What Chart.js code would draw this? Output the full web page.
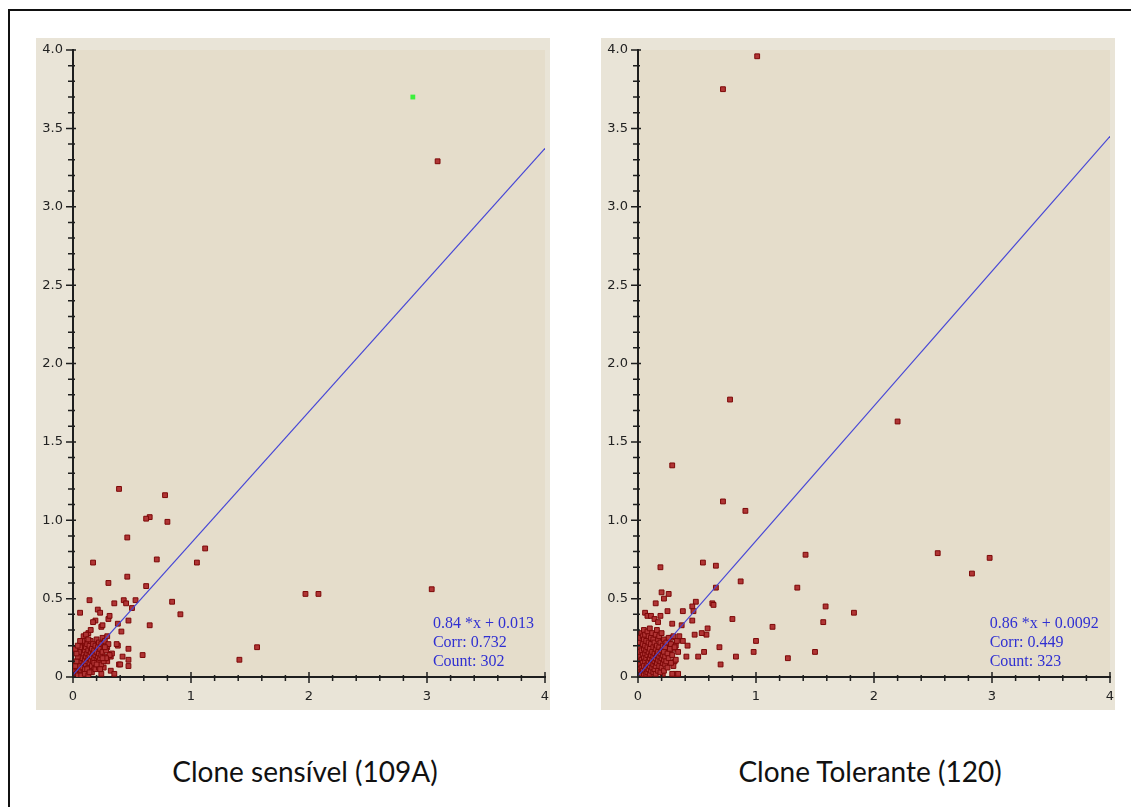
<!DOCTYPE html>
<html>
<head>
<meta charset="utf-8">
<script src="https://cdn.jsdelivr.net/npm/chart.js@4.4.0/dist/chart.umd.min.js"></script>
<style>
    body { margin: 0; background: #fff; width: 1131px; height: 807px; overflow: hidden; position: relative; }
    #frame { position: absolute; left: 8px; top: 9px; width: 1200px; height: 900px; border: 2px solid #111; }
    .panel { position: absolute; top: 38px; width: 514px; height: 672px; background: #e9e4d7; }
    #panel-sens { left: 36px; }
    #panel-tol { left: 601px; }
    .title { position: absolute; top: 756px; width: 400px; text-align: center; font-family: Lato, "Open Sans", sans-serif; font-size: 28px; line-height: 30px; color: #111; }
</style>
</head>
<body>
<div id="frame"></div>
<div class="panel" id="panel-sens"><canvas id="chart-sens"></canvas></div>
<div class="panel" id="panel-tol"><canvas id="chart-tol"></canvas></div>
<div class="title" style="left:105px">Clone sensível (109A)</div>
<div class="title" style="left:670px">Clone Tolerante (120)</div>

<script>
// tick labels
const xTickLabels = ['0', '1', '2', '3', '4'];
const yTickLabels = ['0', '0.5', '1.0', '1.5', '2.0', '2.5', '3.0', '3.5', '4.0'];

// regression / stats shown in the corner of each plot
const fitSlopes = [0.84, 0.86];
const fitIntercepts = [0.013, 0.0092];
const fitLabels = ['0.84 *x + 0.013', '0.86 *x + 0.0092'];
const corrValues = [0.732, 0.449];
const countValues = [302, 323];

// Clone sensivel (109A): [x, y]
const sensHighlight = [[2.88, 3.70]];
const sensPoints = [
    [3.09, 3.29], [3.04, 0.56], [1.97, 0.53], [2.08, 0.53], [1.56, 0.19], [1.41, 0.11],
    [1.12, 0.82], [1.05, 0.73], [0.91, 0.40], [0.84, 0.48], [0.80, 0.99], [0.78, 1.16],
    [0.65, 1.02], [0.62, 1.01], [0.71, 0.75], [0.62, 0.58], [0.65, 0.33], [0.59, 0.14],
    [0.39, 1.20], [0.46, 0.89], [0.46, 0.64], [0.30, 0.60], [0.17, 0.73], [0.14, 0.49],
    [0.06, 0.41], [0.53, 0.49], [0.50, 0.44], [0.43, 0.49], [0.45, 0.47], [0.35, 0.47],
    [0.47, 0.36], [0.38, 0.34], [0.41, 0.29], [0.30, 0.37], [0.21, 0.43], [0.23, 0.41],
    [0.19, 0.36], [0.17, 0.35], [0.24, 0.32], [0.47, 0.18], [0.47, 0.11], [0.47, 0.07],
    [0.42, 0.13], [0.38, 0.20], [0.37, 0.21], [0.32, 0.13], [0.39, 0.08], [0.32, 0.04],
    [0.35, 0.02], [0.24, 0.02], [0.26, 0.06], [0.31, 0.39], [0.13, 0.28], [0.15, 0.30],
    [0.29, 0.10], [0.40, 0.08], [0.29, 0.19], [0.33, 0.15], [0.25, 0.33],
    [0.01, 0.02], [0.02, 0.01], [0.02, 0.04], [0.03, 0.02], [0.03, 0.06], [0.04, 0.03],
    [0.04, 0.08], [0.05, 0.05], [0.05, 0.11], [0.06, 0.02], [0.06, 0.07], [0.06, 0.14],
    [0.07, 0.04], [0.07, 0.10], [0.07, 0.18], [0.08, 0.06], [0.08, 0.12], [0.08, 0.20],
    [0.09, 0.03], [0.09, 0.09], [0.09, 0.15], [0.10, 0.05], [0.10, 0.11], [0.10, 0.17],
    [0.10, 0.22], [0.11, 0.08], [0.11, 0.13], [0.11, 0.19], [0.12, 0.02], [0.12, 0.10],
    [0.12, 0.15], [0.12, 0.21], [0.13, 0.06], [0.13, 0.12], [0.13, 0.17], [0.14, 0.09],
    [0.14, 0.14], [0.14, 0.20], [0.15, 0.04], [0.15, 0.11], [0.15, 0.16], [0.15, 0.23],
    [0.16, 0.07], [0.16, 0.13], [0.16, 0.18], [0.17, 0.10], [0.17, 0.15], [0.17, 0.21],
    [0.18, 0.05], [0.18, 0.12], [0.18, 0.17], [0.19, 0.09], [0.19, 0.14], [0.19, 0.20],
    [0.20, 0.11], [0.20, 0.16], [0.20, 0.24], [0.21, 0.07], [0.21, 0.13], [0.21, 0.19],
    [0.22, 0.10], [0.22, 0.15], [0.22, 0.22], [0.23, 0.12], [0.23, 0.18], [0.24, 0.14],
    [0.24, 0.21], [0.25, 0.16], [0.25, 0.25], [0.26, 0.19], [0.27, 0.13], [0.27, 0.23],
    [0.28, 0.17], [0.29, 0.26], [0.30, 0.21], [0.31, 0.14],
    [0.02, 0.07], [0.03, 0.10], [0.04, 0.13], [0.05, 0.16], [0.06, 0.19], [0.08, 0.23],
    [0.09, 0.26], [0.11, 0.27], [0.13, 0.24], [0.04, 0.01], [0.07, 0.01], [0.10, 0.02],
    [0.13, 0.01], [0.16, 0.03], [0.19, 0.05], [0.22, 0.06], [0.24, 0.08], [0.26, 0.10],
    [0.28, 0.12], [0.03, 0.15], [0.02, 0.18], [0.04, 0.20], [0.06, 0.23], [0.12, 0.05],
    [0.14, 0.03], [0.18, 0.09], [0.20, 0.08], [0.25, 0.12], [0.27, 0.19], [0.23, 0.05]
];

// Clone Tolerante (120): [x, y]
const tolPoints = [
    [1.01, 3.96], [0.72, 3.75], [0.78, 1.77], [2.20, 1.63], [0.29, 1.35], [0.72, 1.12],
    [0.91, 1.06], [2.54, 0.79], [2.98, 0.76], [2.83, 0.66], [1.42, 0.78], [1.35, 0.57],
    [1.59, 0.45], [1.83, 0.41], [1.57, 0.35], [1.50, 0.16], [1.27, 0.12], [1.14, 0.32],
    [1.00, 0.23], [0.98, 0.16], [0.83, 0.13], [0.80, 0.37], [0.87, 0.61], [0.66, 0.71],
    [0.55, 0.73], [0.66, 0.57], [0.63, 0.47], [0.64, 0.46], [0.69, 0.19], [0.70, 0.08],
    [0.59, 0.31], [0.58, 0.27], [0.54, 0.28], [0.56, 0.16], [0.51, 0.13], [0.48, 0.27],
    [0.49, 0.48], [0.46, 0.45], [0.47, 0.42], [0.46, 0.36], [0.42, 0.20], [0.41, 0.13],
    [0.38, 0.42], [0.38, 0.23], [0.37, 0.33], [0.31, 0.18], [0.32, 0.20], [0.31, 0.10],
    [0.32, 0.02], [0.29, 0.02], [0.34, 0.02], [0.26, 0.53], [0.22, 0.50], [0.20, 0.54],
    [0.19, 0.70], [0.15, 0.47], [0.06, 0.41], [0.08, 0.39], [0.11, 0.39], [0.14, 0.37],
    [0.17, 0.35], [0.19, 0.39], [0.25, 0.42], [0.29, 0.34], [0.28, 0.25], [0.27, 0.21],
    [0.30, 0.07], [0.21, 0.02], [0.27, 0.15], [0.25, 0.17], [0.23, 0.12],
    [0.01, 0.01], [0.01, 0.05], [0.01, 0.10], [0.01, 0.16], [0.01, 0.22], [0.02, 0.03],
    [0.02, 0.08], [0.02, 0.13], [0.02, 0.19], [0.02, 0.25], [0.03, 0.02], [0.03, 0.06],
    [0.03, 0.11], [0.03, 0.17], [0.03, 0.28], [0.04, 0.04], [0.04, 0.09], [0.04, 0.14],
    [0.04, 0.21], [0.04, 0.26], [0.05, 0.02], [0.05, 0.07], [0.05, 0.12], [0.05, 0.18],
    [0.05, 0.24], [0.05, 0.30], [0.06, 0.04], [0.06, 0.10], [0.06, 0.15], [0.06, 0.20],
    [0.06, 0.27], [0.07, 0.02], [0.07, 0.06], [0.07, 0.12], [0.07, 0.17], [0.07, 0.23],
    [0.08, 0.03], [0.08, 0.08], [0.08, 0.14], [0.08, 0.19], [0.08, 0.29], [0.09, 0.05],
    [0.09, 0.10], [0.09, 0.16], [0.09, 0.22], [0.09, 0.26], [0.10, 0.02], [0.10, 0.07],
    [0.10, 0.12], [0.10, 0.18], [0.10, 0.31], [0.11, 0.04], [0.11, 0.09], [0.11, 0.14],
    [0.11, 0.21], [0.11, 0.25], [0.12, 0.06], [0.12, 0.11], [0.12, 0.16], [0.12, 0.28],
    [0.13, 0.03], [0.13, 0.08], [0.13, 0.13], [0.13, 0.19], [0.13, 0.24], [0.14, 0.05],
    [0.14, 0.10], [0.14, 0.15], [0.14, 0.22], [0.15, 0.02], [0.15, 0.07], [0.15, 0.12],
    [0.15, 0.18], [0.15, 0.27], [0.16, 0.09], [0.16, 0.14], [0.16, 0.20], [0.16, 0.30],
    [0.17, 0.04], [0.17, 0.11], [0.17, 0.16], [0.17, 0.24], [0.18, 0.07], [0.18, 0.13],
    [0.18, 0.19], [0.18, 0.26], [0.19, 0.03], [0.19, 0.10], [0.19, 0.15], [0.19, 0.22],
    [0.20, 0.06], [0.20, 0.12], [0.20, 0.17], [0.20, 0.28], [0.21, 0.09], [0.21, 0.14],
    [0.21, 0.20], [0.22, 0.04], [0.22, 0.11], [0.22, 0.16], [0.22, 0.24], [0.23, 0.08],
    [0.23, 0.13], [0.23, 0.19], [0.24, 0.10], [0.24, 0.22], [0.25, 0.06], [0.25, 0.15],
    [0.26, 0.12], [0.26, 0.25], [0.27, 0.18], [0.28, 0.09], [0.28, 0.21], [0.29, 0.14],
    [0.30, 0.26], [0.31, 0.19], [0.32, 0.11], [0.33, 0.23], [0.34, 0.16], [0.35, 0.26]
];

const toXY = pts => pts.map(p => ({ x: p[0], y: p[1] }));

// axis ticks crossing the axis line + stats text
const panelDecor = {
    id: 'panelDecor',
    beforeDraw(chart) {
        const a = chart.chartArea;
        const ctx = chart.ctx;
        ctx.save();
        ctx.fillStyle = '#e5ddcb';
        ctx.fillRect(a.left, a.top, a.right - a.left, a.bottom - a.top);
        ctx.restore();
    },
    afterDraw(chart, args, opts) {
        const ctx = chart.ctx;
        const xs = chart.scales.x;
        const ys = chart.scales.y;
        const x0 = xs.getPixelForValue(0);
        const y0 = ys.getPixelForValue(0);
        ctx.save();
        ctx.strokeStyle = '#1e1e1e';
        ctx.lineWidth = 1.5;
        ctx.beginPath();
        for (let i = 0; i <= 40; i++) {
            const py = ys.getPixelForValue(i / 10);
            const major = i % 5 === 0;
            ctx.moveTo(x0 - (major ? 7 : 5), py);
            ctx.lineTo(x0 + (major ? 3 : 2), py);
        }
        for (let i = 0; i <= 20; i++) {
            const px = xs.getPixelForValue(i / 5);
            const major = i % 5 === 0;
            ctx.moveTo(px, y0 - (major ? 5 : 2));
            ctx.lineTo(px, y0 + (major ? 6 : 4));
        }
        ctx.stroke();

        ctx.fillStyle = '#3030d2';
        ctx.font = '16px "Liberation Serif", serif';
        ctx.textBaseline = 'middle';
        ctx.textAlign = 'left';
        const tx = xs.getPixelForValue(opts.textX);
        opts.lines.forEach((t, i) => {
            ctx.fillText(t, tx, ys.getPixelForValue(0.34 - i * 0.12));
        });
        ctx.restore();
    }
};

const makeChart = function (canvasId, idx, points, highlight, textX) {
    const fitLine = [
        { x: 0, y: fitIntercepts[idx] },
        { x: 4, y: fitSlopes[idx] * 4 + fitIntercepts[idx] }
    ];
    const datasets = [
        {
            type: 'line',
            data: fitLine,
            borderColor: '#4646d6',
            borderWidth: 1.2,
            pointRadius: 0,
            fill: false,
            order: 0
        },
        {
            type: 'scatter',
            data: toXY(points),
            pointStyle: 'rect',
            pointRadius: 3.4,
            backgroundColor: '#b03535',
            borderColor: '#7c0808',
            borderWidth: 1,
            order: 2
        }
    ];
    if (highlight.length) {
        datasets.push({
            type: 'scatter',
            data: toXY(highlight),
            pointStyle: 'rect',
            pointRadius: 3.4,
            backgroundColor: '#3cf03c',
            borderColor: '#3cf03c',
            borderWidth: 0,
            order: 1
        });
    }

    return new Chart(document.getElementById(canvasId), {
        type: 'scatter',
        data: { datasets: datasets },
        plugins: [panelDecor],
        options: {
            responsive: true,
            maintainAspectRatio: false,
            animation: false,
            layout: { padding: { top: 12, right: 0, left: 0, bottom: 0 } },
            plugins: {
                legend: { display: false },
                tooltip: { enabled: false },
                panelDecor: {
                    textX: textX,
                    lines: [fitLabels[idx], 'Corr: ' + corrValues[idx], 'Count: ' + countValues[idx]]
                }
            },
            scales: {
                x: {
                    type: 'linear',
                    min: 0,
                    max: 4,
                    afterFit: function (scale) { scale.height = 33; },
                    ticks: {
                        stepSize: 1,
                        padding: 0,
                        color: '#222',
                        font: { family: 'DejaVu Sans', size: 13 },
                        callback: (v, i) => xTickLabels[i]
                    },
                    grid: { display: false, tickLength: 12 },
                    border: { display: true, color: '#1e1e1e', width: 2 }
                },
                y: {
                    type: 'linear',
                    min: 0,
                    max: 4,
                    afterFit: function (scale) { scale.width = 37; },
                    ticks: {
                        stepSize: 0.5,
                        padding: 2,
                        color: '#222',
                        font: { family: 'DejaVu Sans', size: 13 },
                        callback: (v, i) => yTickLabels[i]
                    },
                    grid: { display: false, tickLength: 8 },
                    border: { display: true, color: '#1e1e1e', width: 2 }
                }
            }
        }
    });
}

makeChart('chart-sens', 0, sensPoints, sensHighlight, 3.05);
makeChart('chart-tol', 1, tolPoints, [], 2.98);
</script>
</body>
</html>
